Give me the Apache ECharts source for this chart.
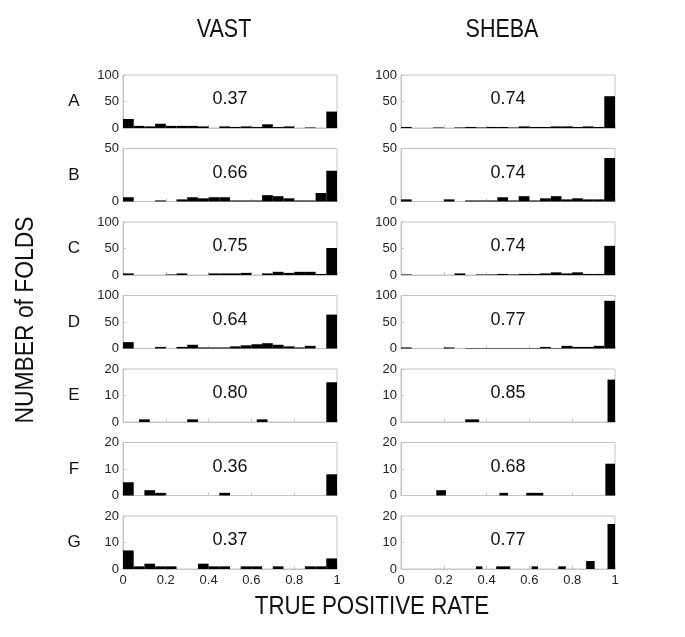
<!DOCTYPE html>
<html>
<head>
<meta charset="utf-8">
<script src="https://cdn.jsdelivr.net/npm/echarts@6/dist/echarts.min.js"></script>
<style>
html,body{margin:0;padding:0;background:#fff;}
#chart{width:685px;height:637px;}
</style>
</head>
<body>
<div id="chart"></div>
<script>
// ---- data ----
var columnTitles = ['VAST', 'SHEBA'];
var rowLabels = ['A', 'B', 'C', 'D', 'E', 'F', 'G'];
var yMax = [100, 50, 100, 100, 20, 20, 20];
var yInterval = [50, 50, 50, 50, 10, 10, 10];
var binWidth = 0.05;

var vastScores  = ['0.37', '0.66', '0.75', '0.64', '0.80', '0.36', '0.37'];
var shebaScores = ['0.74', '0.74', '0.74', '0.77', '0.85', '0.68', '0.77'];

// 20-bin histogram counts (bins of 0.05 from 0 to 1)
var vastA  = [17,4,3,8,4,4,4,3,0,3,2,3,2,7,2,3,0,1,0,31];
var shebaA = [2,0,0,1,0,1,2,1,2,2,1,3,2,2,3,3,2,3,2,60];
var vastB  = [4,0,0,1,0,2,4,3,4,4,1,1,1,6,5,3,1,1,8,29];
var shebaB = [2,0,0,0,2,0,1,1,1,4,1,5,1,3,5,2,3,2,2,41];
var vastC  = [3,0,0,0,1,3,0,0,3,3,3,4,0,3,6,4,6,6,2,51];
var shebaC = [1,0,0,0,0,3,0,1,1,2,1,2,2,3,5,3,5,2,2,55];
var vastD  = [12,0,0,3,0,3,7,2,2,2,4,6,8,10,7,4,2,5,0,64];
var shebaD = [2,0,0,0,2,0,1,1,1,1,1,1,1,3,1,5,3,3,5,90];
var vastF  = [5,0,2,1,0,0,0,0,0,1,0,0,0,0,0,0,0,0,0,8];
var vastG  = [7,1,2,1,1,0,0,2,1,1,0,1,1,0,1,0,0,1,1,4];

// bars given as [from, to, count]
var vastE  = [[0.075,0.125,1],[0.30,0.35,1],[0.625,0.675,1],[0.95,1.0,15]];
var shebaE = [[0.30,0.365,1],[0.965,1.0,16]];
var shebaF = [[0.165,0.21,2],[0.46,0.50,1],[0.585,0.665,1],[0.955,1.0,12]];
var shebaG = [[0.35,0.38,1],[0.445,0.51,1],[0.61,0.64,1],[0.735,0.77,1],[0.865,0.905,3],[0.965,1.0,17]];

function fromCounts(counts) {
  var out = [];
  counts.forEach(function (c, i) {
    if (c > 0) out.push([i * binWidth, (i + 1) * binWidth, c]);
  });
  return out;
}

var panels = [
  [fromCounts(vastA), fromCounts(shebaA)],
  [fromCounts(vastB), fromCounts(shebaB)],
  [fromCounts(vastC), fromCounts(shebaC)],
  [fromCounts(vastD), fromCounts(shebaD)],
  [vastE, shebaE],
  [fromCounts(vastF), shebaF],
  [fromCounts(vastG), shebaG]
];
var scores = [vastScores, shebaScores];

// ---- layout ----
var colLeft = [123, 401];
var panelW = 214;
var rowTop0 = 75, rowStep = 73.5, panelH = 53;
var frameColor = '#c4c4c4';
var sans = '"Liberation Sans", Arial, sans-serif';

function renderBar(params, api) {
  var p0 = api.coord([api.value(0), api.value(2)]);
  var p1 = api.coord([api.value(1), 0]);
  return {type: 'rect',
    shape: {x: p0[0], y: p0[1], width: p1[0] - p0[0], height: p1[1] - p0[1]},
    style: {fill: '#000'}};
}
function fmtX(v) { return String(Math.round(v * 10) / 10); }

var grids = [], xAxes = [], yAxes = [], series = [], graphics = [];
var idx = 0;
for (var r = 0; r < 7; r++) {
  var panelTop = rowTop0 + r * rowStep;
  for (var c = 0; c < 2; c++) {
    grids.push({left: colLeft[c], top: panelTop, width: panelW, height: panelH,
      show: true, borderColor: frameColor, borderWidth: 1});
    var last = (r === 6);
    xAxes.push({type: 'value', gridIndex: idx, min: 0, max: 1, interval: 0.2,
      axisLine: {show: true, onZero: false, lineStyle: {color: frameColor}},
      axisTick: {show: true, inside: true, length: 3, lineStyle: {color: frameColor}},
      splitLine: {show: false},
      axisLabel: {show: last, color: '#222', fontFamily: sans, fontSize: 13, margin: 5, formatter: fmtX}
    });
    yAxes.push({type: 'value', gridIndex: idx, min: 0, max: yMax[r], interval: yInterval[r],
      axisLine: {show: true, lineStyle: {color: frameColor}},
      axisTick: {show: true, inside: true, length: 3, lineStyle: {color: frameColor}},
      splitLine: {show: false},
      axisLabel: {show: true, color: '#222', fontFamily: sans, fontSize: 13, margin: 4}
    });
    series.push({
      type: 'custom', xAxisIndex: idx, yAxisIndex: idx,
      data: panels[r][c],
      renderItem: renderBar,
      silent: true
    });
    graphics.push({type: 'text', x: colLeft[c] + panelW / 2, y: panelTop + panelH * 0.46,
      style: {text: scores[c][r], fill: '#111', font: '18px ' + sans,
        textAlign: 'center', textVerticalAlign: 'middle'}});
    idx++;
  }
  graphics.push({type: 'text', x: 74, y: panelTop + panelH / 2,
    style: {text: rowLabels[r], fill: '#111', font: '17px ' + sans,
      textAlign: 'center', textVerticalAlign: 'middle'}});
}
for (var c2 = 0; c2 < 2; c2++) {
  graphics.push({type: 'text', x: colLeft[c2] + panelW / 2 - 6, y: 30, scaleX: 0.86,
    style: {text: columnTitles[c2], fill: '#111', font: '25px ' + sans,
      textAlign: 'center', textVerticalAlign: 'middle'}});
}
graphics.push({type: 'text', x: 372, y: 607, scaleX: 0.86,
  style: {text: 'TRUE POSITIVE RATE', fill: '#111', font: '26px ' + sans,
    textAlign: 'center', textVerticalAlign: 'middle'}});
graphics.push({type: 'text', x: 26, y: 320, rotation: Math.PI / 2, scaleX: 0.88,
  style: {text: 'NUMBER of FOLDS', fill: '#111', font: '26px ' + sans,
    textAlign: 'center', textVerticalAlign: 'middle'}});

var chart = echarts.init(document.getElementById('chart'), null, {renderer: 'canvas'});
chart.setOption({
  animation: false,
  backgroundColor: '#fff',
  grid: grids, xAxis: xAxes, yAxis: yAxes, series: series,
  graphic: {elements: graphics}
});
</script>
</body>
</html>
